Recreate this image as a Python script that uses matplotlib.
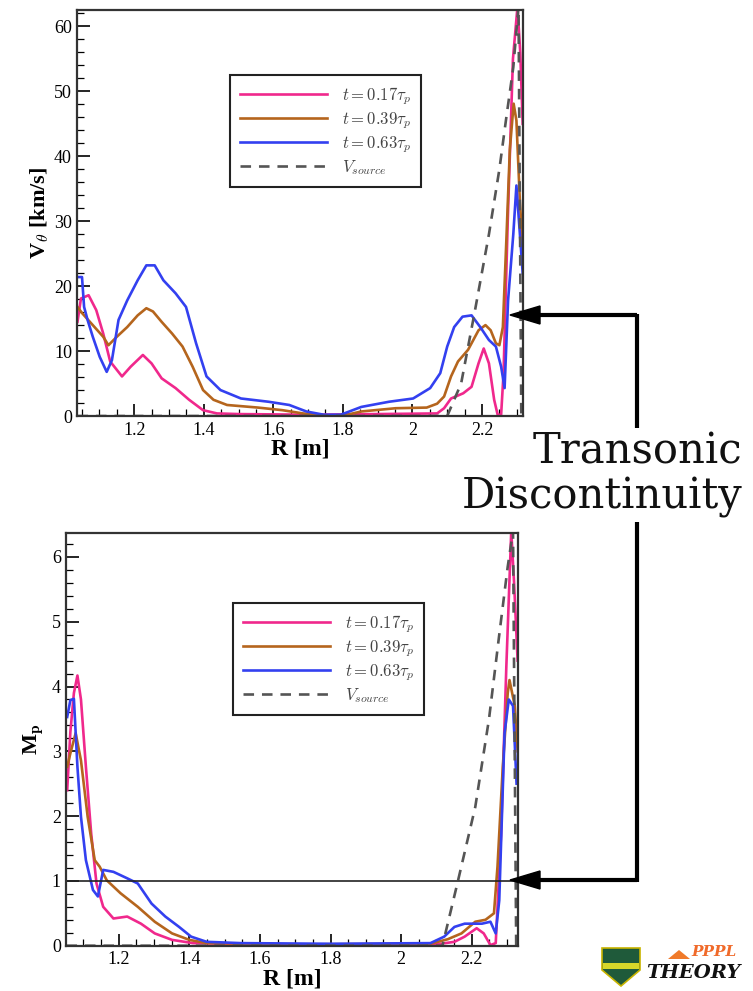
import numpy as np
import matplotlib
matplotlib.use("Agg")
import matplotlib.pyplot as plt
from matplotlib.ticker import MultipleLocator
from matplotlib.patches import Polygon

plt.rcParams['font.family'] = ['Liberation Serif', 'DejaVu Serif']
plt.rcParams['mathtext.fontset'] = 'cm'

# ---- top panel: V_theta [km/s] vs R [m] ----
r_pink_v = [1.037, 1.047, 1.069, 1.091, 1.111, 1.131, 1.165, 1.19, 1.225, 1.25, 1.279, 1.319,
            1.358, 1.398, 1.438, 1.5, 1.7, 1.9, 2.071, 2.091, 2.111, 2.146, 2.17, 2.19, 2.205,
            2.22, 2.235, 2.245, 2.255, 2.262, 2.274, 2.289, 2.302, 2.31, 2.317]
v_pink = [14.5, 18.1, 18.6, 16.3, 12.7, 8.4, 6.1, 7.6, 9.4, 8.1, 5.8, 4.3,
          2.5, 0.9, 0.4, 0.3, 0.2, 0.3, 0.4, 1.2, 2.7, 3.5, 4.5, 8.1, 10.4,
          8.1, 2.5, 0.2, 0.2, 6.6, 30.0, 55.0, 63.0, 56.0, 45.0]

r_brown_v = [1.037, 1.051, 1.081, 1.111, 1.126, 1.15, 1.18, 1.21, 1.235, 1.254, 1.279, 1.309,
             1.339, 1.368, 1.398, 1.428, 1.467, 1.556, 1.626, 1.685, 1.745, 1.804, 1.853, 1.952,
             2.041, 2.071, 2.091, 2.111, 2.131, 2.16, 2.19, 2.21, 2.225, 2.24, 2.25, 2.26,
             2.27, 2.28, 2.291, 2.299, 2.309, 2.317]
v_brown = [16.8, 15.8, 14.0, 12.2, 10.9, 12.2, 13.7, 15.5, 16.6, 16.1, 14.5, 12.7,
           10.7, 7.6, 4.0, 2.5, 1.7, 1.3, 0.9, 0.4, 0.1, 0.1, 0.7, 1.2,
           1.3, 1.9, 3.0, 6.1, 8.4, 10.2, 13.2, 14.0, 13.2, 11.2, 10.9, 13.7,
           27.0, 41.0, 48.1, 45.5, 33.0, 26.0]

r_blue_v = [1.037, 1.05, 1.056, 1.066, 1.081, 1.101, 1.121, 1.136, 1.155, 1.18, 1.21, 1.235,
            1.259, 1.284, 1.319, 1.349, 1.378, 1.408, 1.448, 1.507, 1.586, 1.646, 1.695, 1.745,
            1.794, 1.853, 1.933, 2.002, 2.051, 2.08, 2.1, 2.12, 2.144, 2.17, 2.195, 2.22,
            2.24, 2.255, 2.265, 2.275, 2.29, 2.299, 2.309, 2.317]
v_blue = [21.4, 21.4, 16.8, 14.8, 12.2, 9.1, 6.8, 8.6, 14.8, 17.8, 20.9, 23.2,
          23.2, 20.9, 18.9, 16.8, 11.2, 6.1, 4.0, 2.7, 2.2, 1.7, 0.7, 0.2,
          0.2, 1.4, 2.2, 2.7, 4.3, 6.6, 10.7, 13.7, 15.3, 15.5, 13.7, 11.7,
          10.7, 7.6, 4.3, 17.8, 28.0, 35.5, 28.0, 22.0]

r_src_v = [1.037, 2.1, 2.14, 2.18, 2.22, 2.25, 2.27, 2.29, 2.305, 2.313]
v_src = [0.0, 0.0, 5.0, 16.3, 28.0, 38.0, 46.0, 53.7, 63.0, 0.0]

# ---- bottom panel: M_p vs R [m] ----
r_pink_m = [1.054, 1.063, 1.073, 1.083, 1.093, 1.107, 1.122, 1.137, 1.156, 1.185, 1.224, 1.263,
            1.302, 1.351, 1.41, 1.6, 1.9, 2.112, 2.151, 2.18, 2.214, 2.234, 2.253, 2.268,
            2.283, 2.298, 2.312, 2.32, 2.33]
m_pink = [2.4, 3.3, 3.9, 4.17, 3.8, 2.76, 1.73, 0.96, 0.6, 0.42, 0.45, 0.34,
          0.19, 0.09, 0.04, 0.02, 0.02, 0.03, 0.06, 0.14, 0.27, 0.19, 0.01, 0.04,
          1.7, 4.3, 6.4, 5.6, 4.4]

r_brown_m = [1.054, 1.063, 1.078, 1.093, 1.112, 1.132, 1.146, 1.166, 1.205, 1.254, 1.302, 1.351,
             1.4, 1.449, 1.7, 2.083, 2.132, 2.171, 2.21, 2.239, 2.263, 2.273, 2.288, 2.302,
             2.307, 2.322, 2.33]
m_brown = [2.76, 2.97, 3.28, 2.86, 1.99, 1.32, 1.22, 1.01, 0.81, 0.6, 0.37, 0.19,
           0.09, 0.04, 0.02, 0.03, 0.1, 0.19, 0.37, 0.4, 0.5, 1.22, 2.76, 3.9,
           4.1, 3.7, 3.0]

r_blue_m = [1.054, 1.063, 1.073, 1.083, 1.093, 1.107, 1.127, 1.141, 1.156, 1.185, 1.224, 1.254,
            1.293, 1.332, 1.371, 1.405, 1.449, 1.546, 1.8, 2.083, 2.122, 2.151, 2.18, 2.229,
            2.253, 2.268, 2.278, 2.293, 2.305, 2.317, 2.327]
m_blue = [3.53, 3.79, 3.81, 2.76, 1.99, 1.32, 0.86, 0.76, 1.17, 1.14, 1.04, 0.96,
          0.65, 0.45, 0.29, 0.14, 0.06, 0.04, 0.03, 0.04, 0.14, 0.29, 0.34, 0.34,
          0.37, 0.19, 0.7, 3.28, 3.8, 3.7, 2.5]

r_src_m = [1.052, 2.117, 2.161, 2.21, 2.249, 2.278, 2.302, 2.317, 2.326]
m_src = [0.0, 0.0, 1.0, 2.14, 3.5, 4.8, 5.85, 6.4, 0.0]

labels = [r'$t = 0.17\tau_p$', r'$t = 0.39\tau_p$', r'$t = 0.63\tau_p$', r'$V_{source}$']
c_pink, c_brown, c_blue, c_src = '#f0288c', '#b5651d', '#3340f0', '#555555'


def style_axes(ax, xlim, ylim, ymaj, ymin):
    ax.set_xlim(*xlim)
    ax.set_ylim(*ylim)
    ax.xaxis.set_major_locator(MultipleLocator(0.2))
    ax.xaxis.set_minor_locator(MultipleLocator(0.05))
    ax.yaxis.set_major_locator(MultipleLocator(ymaj))
    ax.yaxis.set_minor_locator(MultipleLocator(ymin))
    ax.tick_params(which='both', direction='in', top=False, right=False, labelsize=13, pad=4)
    ax.tick_params(which='major', length=9, width=1.2)
    ax.tick_params(which='minor', length=5, width=0.9)
    ax.xaxis.set_major_formatter(plt.FuncFormatter(lambda v, p: ('%g' % round(v, 2))))
    for s in ax.spines.values():
        s.set_linewidth(1.6)
        s.set_color('#333333')
    ax.set_xlabel('R [m]', fontsize=17, fontweight='bold', labelpad=0)


def add_legend(ax, anchor):
    leg = ax.legend(loc='upper left', bbox_to_anchor=anchor, fancybox=False,
                    edgecolor='#222222', fontsize=12, handlelength=5.2, borderpad=0.6,
                    labelspacing=0.2, handletextpad=0.9, borderaxespad=0, framealpha=1)
    leg.get_frame().set_linewidth(1.5)
    for t in leg.get_texts():
        t.set_color('#444444')
    return leg


fig = plt.figure(figsize=(7.53, 9.91), dpi=100)

ax1 = fig.add_axes([0.1029, 0.5802, 0.5917, 0.4102])
ax1.plot(r_pink_v, v_pink, color=c_pink, lw=1.9, label=labels[0])
ax1.plot(r_brown_v, v_brown, color=c_brown, lw=1.9, label=labels[1])
ax1.plot(r_blue_v, v_blue, color=c_blue, lw=1.9, label=labels[2])
ax1.plot(r_src_v, v_src, color=c_src, lw=1.9, ls=(0, (4, 3)), label=labels[3])
style_axes(ax1, (1.037, 2.318), (0, 62.6), 10, 2)
ax1.set_ylabel(r'V$_{\mathbf{\theta}}$ [km/s]', fontsize=16, fontweight='bold', labelpad=2)
add_legend(ax1, (0.342, 0.839))

ax2 = fig.add_axes([0.0883, 0.0457, 0.5991, 0.4165])
ax2.plot(r_pink_m, m_pink, color=c_pink, lw=1.9, label=labels[0])
ax2.plot(r_brown_m, m_brown, color=c_brown, lw=1.9, label=labels[1])
ax2.plot(r_blue_m, m_blue, color=c_blue, lw=1.9, label=labels[2])
ax2.plot(r_src_m, m_src, color=c_src, lw=1.9, ls=(0, (4, 3)), label=labels[3])
ax2.axhline(1.0, color='#222222', lw=1.2)
style_axes(ax2, (1.052, 2.33), (0, 6.37), 1, 0.2)
ax2.set_ylabel(r'M$_{\mathbf{p}}$', fontsize=16, fontweight='bold', labelpad=4)
add_legend(ax2, (0.369, 0.830))

# ---- bracket with arrows ----
W, H = 753.0, 991.0
def fx(px):
    return px / W
def fy(py):
    return 1 - py / H

xv = 637
y_top, y_bot = 315, 880
lk = dict(color='black', lw=3, transform=fig.transFigure, solid_capstyle='butt')
fig.add_artist(plt.Line2D([fx(535), fx(xv)], [fy(y_top), fy(y_top)], **lk))
fig.add_artist(plt.Line2D([fx(535), fx(xv)], [fy(y_bot), fy(y_bot)], **lk))
fig.add_artist(plt.Line2D([fx(xv), fx(xv)], [fy(y_top - 1.5), fy(428)], **lk))
fig.add_artist(plt.Line2D([fx(xv), fx(xv)], [fy(522), fy(y_bot + 1.5)], **lk))
for yy in (y_top, y_bot):
    tri = Polygon([[fx(510), fy(yy)], [fx(540), fy(yy - 9)], [fx(540), fy(yy + 9)]],
                  closed=True, color='black', transform=fig.transFigure)
    fig.add_artist(tri)

fig.text(fx(742), fy(452), 'Transonic', ha='right', va='center', fontsize=30,
         family='DejaVu Serif', color='#111111')
fig.text(fx(742), fy(497), 'Discontinuity', ha='right', va='center', fontsize=30,
         family='DejaVu Serif', color='#111111')

# ---- logo ----
shield = Polygon([[fx(602), fy(948)], [fx(640), fy(948)], [fx(640), fy(970)],
                  [fx(621), fy(986)], [fx(602), fy(970)]], closed=True,
                 facecolor='#1f5a3a', edgecolor='#c8b400', lw=1.2, transform=fig.transFigure)
fig.add_artist(shield)
band = Polygon([[fx(603), fy(963)], [fx(639), fy(963)], [fx(639), fy(969)], [fx(603), fy(969)]],
               closed=True, facecolor='#d6d62a', edgecolor='none', transform=fig.transFigure)
fig.add_artist(band)
sun = Polygon([[fx(668), fy(959)], [fx(690), fy(959)], [fx(679), fy(950)]], closed=True,
              facecolor='#f07a2a', edgecolor='none', transform=fig.transFigure)
fig.add_artist(sun)
fig.text(fx(737), fy(952), 'PPPL', ha='right', va='center', fontsize=11, color='#f06a2a',
         fontstyle='italic', fontweight='bold', family='DejaVu Serif')
fig.text(fx(740), fy(973), 'THEORY', ha='right', va='center', fontsize=14, color='#111111',
         fontstyle='italic', fontweight='bold', family='DejaVu Serif')

fig.savefig('out.png', dpi=100)
